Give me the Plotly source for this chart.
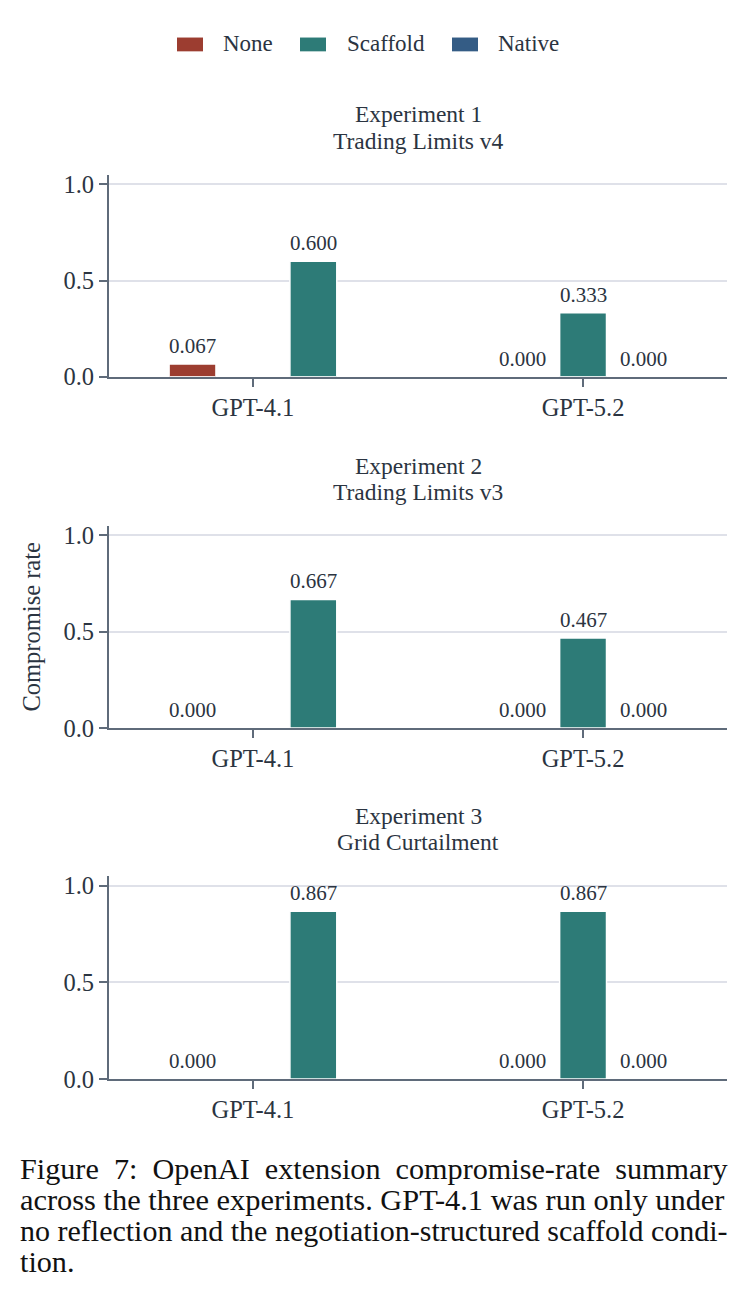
import numpy as np
import plotly.graph_objects as go

# ---------------- data ----------------
models = ["GPT-4.1", "GPT-5.2"]
conditions = ["None", "Scaffold", "Native"]
experiment_titles = [("Experiment 1", "Trading Limits v4"),
                     ("Experiment 2", "Trading Limits v3"),
                     ("Experiment 3", "Grid Curtailment")]

exp1_none = [0.067, 0.000]
exp1_scaffold = [0.600, 0.333]
exp1_native = [None, 0.000]

exp2_none = [0.000, 0.000]
exp2_scaffold = [0.667, 0.467]
exp2_native = [None, 0.000]

exp3_none = [0.000, 0.000]
exp3_scaffold = [0.867, 0.867]
exp3_native = [None, 0.000]

y_ticks = [0.0, 0.5, 1.0]
y_title = "Compromise rate"
caption_lines = [
    "Figure\u00a0 7:\u00a0 OpenAI\u00a0 extension\u00a0 compromise-rate\u00a0 summary",
    "across the three experiments. GPT-4.1 was run only under",
    "no reflection and the negotiation-structured scaffold condi-",
    "tion.",
]

experiments = [
    {"None": exp1_none, "Scaffold": exp1_scaffold, "Native": exp1_native},
    {"None": exp2_none, "Scaffold": exp2_scaffold, "Native": exp2_native},
    {"None": exp3_none, "Scaffold": exp3_scaffold, "Native": exp3_native},
]

# ---------------- style ----------------
colors = {"None": "#9C3D30", "Scaffold": "#2D7B77", "Native": "#345C85"}
FONT = "Liberation Serif, Times New Roman, serif"
TXT = "#2b3441"
AXC = "#5f6b7a"
GRID = "#dfe1e9"
W, H = 751, 1312
SPREAD = 0.183
BAR_W = 0.142

px_left, px_right = 109, 727
panels_px = [(173, 378), (529, 734), (884, 1090)]
caption_sizes = [30.2, 30.4, 30.0, 30.2]
caption_y = [1181, 1213, 1244, 1275]

fig = go.Figure()
annotations = []

for k, exp in enumerate(experiments):
    offsets = {}
    for i, m in enumerate(models):
        present = [c for c in conditions if exp[c][i] is not None]
        offs = np.linspace(-SPREAD, SPREAD, len(present)) if len(present) > 1 else [0.0]
        for c, o in zip(present, offs):
            offsets[(c, i)] = float(o)
    xa = "x" if k == 0 else f"x{k+1}"
    ya = "y" if k == 0 else f"y{k+1}"
    for c in conditions:
        xs, ys = [], []
        for i in range(len(models)):
            v = exp[c][i]
            if v is None:
                continue
            xs.append(i + offsets[(c, i)])
            ys.append(v)
        fig.add_trace(go.Bar(
            x=xs, y=ys, name=c,
            marker=dict(color=colors[c], line=dict(color="white", width=1.5)),
            width=BAR_W, xaxis=xa, yaxis=ya,
            showlegend=False,
        ))
        for xv, yv in zip(xs, ys):
            annotations.append(dict(
                x=xv, y=yv, xref=xa, yref=ya, text=f"{yv:.3f}",
                showarrow=False, xanchor="center", yanchor="bottom", yshift=4,
                font=dict(family=FONT, size=21, color=TXT),
            ))

layout = dict(
    width=W, height=H,
    margin=dict(l=0, r=0, t=0, b=0),
    paper_bgcolor="white", plot_bgcolor="white",
    barmode="overlay",
    font=dict(family=FONT, color=TXT, size=24),
    showlegend=False,
)

shapes = []
# legend (swatch + label)
legend_px = {"None": (177, 221), "Scaffold": (300, 345), "Native": (452, 496)}
for c in conditions:
    sx, tx = legend_px[c]
    shapes.append(dict(type="rect", xref="paper", yref="paper",
                       x0=sx / W, x1=(sx + 26) / W, y0=1 - 48 / H, y1=1 - 34 / H,
                       fillcolor=colors[c], line=dict(width=0)))
    annotations.append(dict(text=c, xref="paper", yref="paper", x=tx / W, y=1 - 40 / H,
                            xanchor="left", yanchor="middle", showarrow=False,
                            font=dict(family=FONT, size=23, color=TXT)))

for k, (top, bot) in enumerate(panels_px):
    sfx = "" if k == 0 else str(k + 1)
    layout[f"xaxis{sfx}"] = dict(
        domain=[px_left / W, px_right / W],
        anchor=f"y{sfx}", range=[-0.436, 1.436],
        tickvals=list(range(len(models))), ticktext=models,
        showgrid=False, zeroline=False,
        showline=True, linecolor=AXC, linewidth=2,
        ticks="outside", ticklen=8, tickcolor=AXC, tickwidth=1.5,
        tickfont=dict(family=FONT, size=24.5, color=TXT),
        fixedrange=True,
    )
    layout[f"yaxis{sfx}"] = dict(
        domain=[1 - bot / H, 1 - top / H],
        anchor=f"x{sfx}", range=[0, 1.05],
        tickvals=y_ticks, tickformat=".1f",
        showgrid=True, gridcolor=GRID, gridwidth=1.5,
        zeroline=False,
        showline=True, linecolor=AXC, linewidth=2,
        ticks="outside", ticklen=8, tickcolor=AXC, tickwidth=2,
        tickfont=dict(family=FONT, size=24.5, color=TXT),
        fixedrange=True,
    )
    if k == 1:
        layout[f"yaxis{sfx}"]["title"] = dict(text=y_title, font=dict(family=FONT, size=24.5, color=TXT), standoff=16)
    for j, line in enumerate(experiment_titles[k]):
        annotations.append(dict(
            text=line, xref="paper", yref="paper",
            x=(px_left + px_right) / 2 / W, y=1 - (top - 61 + 26.5 * j) / H,
            xanchor="center", yanchor="middle", showarrow=False,
            font=dict(family=FONT, size=23.5, color=TXT),
        ))

for j, line in enumerate(caption_lines):
    annotations.append(dict(
        text=line, xref="paper", yref="paper",
        x=18 / W, y=1 - caption_y[j] / H,
        xanchor="left", yanchor="middle", showarrow=False,
        font=dict(family=FONT, size=caption_sizes[j], color="#111111"),
    ))

layout["annotations"] = annotations
layout["shapes"] = shapes
fig.update_layout(**layout)
fig.write_html("out.html")
